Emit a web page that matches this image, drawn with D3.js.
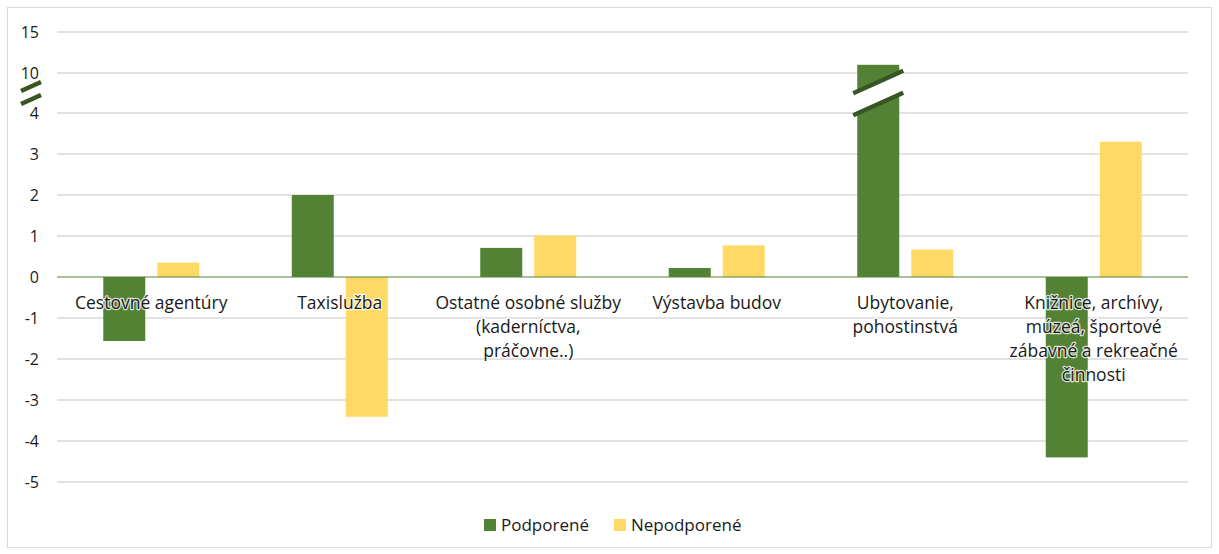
<!DOCTYPE html>
<html>
<head>
<meta charset="utf-8">
<script src="https://cdn.jsdelivr.net/npm/d3@7"></script>
<style>
  body { margin: 0; background: #fff; }
  text { font-family: "Open Sans", "Noto Sans", sans-serif; fill: #1a1a1a; }
</style>
</head>
<body>
<div id="chart"></div>
<script>
// data
const categories = [
  'Cestovné agentúry',
  'Taxislužba',
  'Ostatné osobné služby\n(kaderníctva,\npráčovne..)',
  'Výstavba budov',
  'Ubytovanie,\npohostinstvá',
  'Knižnice, archívy,\nmúzeá, športové\nzábavné a rekreačné\nčinnosti'
];
const seriesNames = ['Podporené', 'Nepodporené'];
const podporene = [-1.56, 2.0, 0.71, 0.22, 11.0, -4.4];
const nepodporene = [0.35, -3.41, 1.01, 0.77, 0.67, 3.3];
const tickValues = [-5, -4, -3, -2, -1, 0, 1, 2, 3, 4, 10, 15];
const breakIndex = 4; // Ubytovanie bar is cut

const width = 1219, height = 554;
const colors = ['#548235', '#ffd966'];
const breakColor = '#375623';
const font = '"Open Sans", "Noto Sans", sans-serif';

const svg = d3.select('#chart').append('svg')
  .attr('width', width)
  .attr('height', height);

svg.append('rect')
  .attr('x', 7.5).attr('y', 7.5)
  .attr('width', 1204).attr('height', 540)
  .attr('fill', '#fff').attr('stroke', '#d9d9d9');

// broken axis: 4..10 and 10..15 each take one step
const y = d3.scaleLinear()
  .domain([-5, 4, 10, 15])
  .range([482, 113, 73, 32]);

const x = d3.scaleBand()
  .domain(d3.range(categories.length))
  .range([57, 1188]);

const xs = d3.scaleBand()
  .domain([0, 1])
  .range([x.bandwidth() / 2 - 48, x.bandwidth() / 2 + 48])
  .paddingInner(12 / 54);

// y axis labels
const yAxis = d3.axisLeft(y)
  .tickValues(tickValues)
  .tickFormat(d => String(d))
  .tickSize(0).tickPadding(0);
const gy = svg.append('g').attr('transform', 'translate(39,0)').call(yAxis);
gy.select('.domain').remove();
gy.selectAll('text').attr('font-size', 16).attr('fill', '#1a1a1a')
  .style('font-family', font);

// grid
svg.append('g').selectAll('line')
  .data(tickValues.filter(d => d !== 0))
  .enter().append('line')
  .attr('x1', 57).attr('x2', 1188)
  .attr('y1', d => y(d)).attr('y2', d => y(d))
  .attr('stroke', '#d9d9d9').attr('stroke-width', 1.3);

// bars
const series = [podporene, nepodporene];
const groups = svg.append('g').selectAll('g')
  .data(series)
  .enter().append('g')
  .attr('fill', (_, i) => colors[i]);

groups.each(function (vals, si) {
  d3.select(this).selectAll('rect')
    .data(vals)
    .enter().append('rect')
    .attr('x', (_, i) => x(i) + xs(si))
    .attr('width', xs.bandwidth())
    .attr('y', d => y(Math.max(0, d)))
    .attr('height', d => Math.abs(y(d) - y(0)));
});

// zero line
svg.append('line')
  .attr('x1', 57).attr('x2', 1188)
  .attr('y1', y(0)).attr('y2', y(0))
  .attr('stroke', '#548235').attr('stroke-width', 1.2);

// break marks
const breakY = (y(4) + y(10)) / 2;
function breakMark(cx, halfW, slope, gap, fillGap) {
  const top = [[cx - halfW, breakY - gap / 2 + halfW * slope], [cx + halfW, breakY - gap / 2 - halfW * slope]];
  const bot = [[cx - halfW, breakY + gap / 2 + halfW * slope], [cx + halfW, breakY + gap / 2 - halfW * slope]];
  if (fillGap) {
    svg.append('polygon')
      .attr('points', [top[0], top[1], bot[1], bot[0]].map(p => p.join(',')).join(' '))
      .attr('fill', '#fff');
  }
  [top, bot].forEach(seg => {
    svg.append('line')
      .attr('x1', seg[0][0]).attr('y1', seg[0][1])
      .attr('x2', seg[1][0]).attr('y2', seg[1][1])
      .attr('stroke', breakColor).attr('stroke-width', 4.5);
  });
}
const bx = x(breakIndex) + xs(0) + xs.bandwidth() / 2;
breakMark(bx, 25, 0.45, 22, true);
breakMark(31, 10, 0.45, 13, false);

// category labels
const labels = svg.append('g').selectAll('text')
  .data(categories)
  .enter().append('text')
  .attr('text-anchor', 'middle')
  .attr('font-size', 17.5)
  .attr('x', (_, i) => x(i) + x.bandwidth() / 2)
  .attr('y', 309)
  .attr('stroke', '#fff').attr('stroke-width', 2.5)
  .attr('stroke-linejoin', 'round')
  .attr('stroke-opacity', 0.8)
  .attr('paint-order', 'stroke');

labels.selectAll('tspan')
  .data((d, i) => d.split('\n').map(t => ({ t, i })))
  .enter().append('tspan')
  .attr('x', d => x(d.i) + x.bandwidth() / 2)
  .attr('dy', (_, j) => j === 0 ? 0 : 24)
  .text(d => d.t);

// legend
const legend = svg.append('g').attr('transform', 'translate(484,519)');
const legendX = [0, 130];
seriesNames.forEach((name, i) => {
  const g = legend.append('g').attr('transform', `translate(${legendX[i]},0)`);
  g.append('rect').attr('width', 12).attr('height', 12).attr('fill', colors[i]);
  g.append('text').attr('x', 17).attr('y', 12).attr('font-size', 17).text(name);
});
</script>
</body>
</html>
